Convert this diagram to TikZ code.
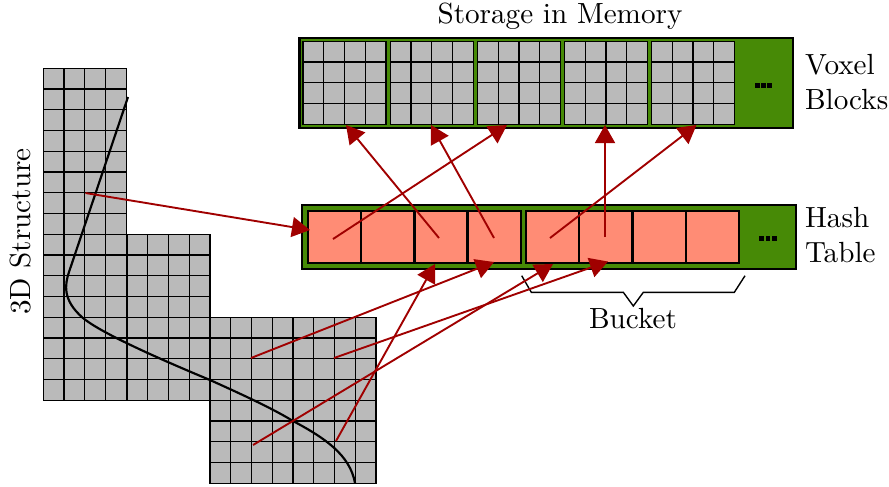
\documentclass[tikz,border=0pt]{standalone}
\usetikzlibrary{arrows.meta}
\definecolor{vgray}{HTML}{BABABA}
\definecolor{vgreen}{HTML}{478A06}
\definecolor{vsalmon}{HTML}{FF8C75}
\definecolor{vred}{HTML}{A00000}
\tikzset{
  gridcells/.style={draw=black,line width=0.47pt},
  cellgrid/.style={black,line width=0.47pt},
  bar/.style={draw=black,fill=vgreen,line width=1.05pt},
  hashbar/.style={draw=black,fill=vgreen,line width=0.8pt},
  hashcell/.style={draw=black,fill=vsalmon,line width=0.8pt},
  link/.style={draw=vred,line width=0.68pt,-{Triangle[length=6.5pt,width=7.2pt]}},
  curve/.style={black,line width=0.78pt},
  brace/.style={black,line width=0.5pt},
  dot/.style={fill=black,draw=none},
  lbl/.style={font=\fontsize{10.5}{13}\selectfont,inner sep=0pt},
}
\newcommand{\gridblock}[4]{%
  \fill[vgray] (#1,#2) rectangle +(#3*20.75,#4*20.75);
  \foreach \k in {1,...,#3}{\draw[cellgrid] (#1+\k*20.75,#2) -- +(0,#4*20.75);}
  \foreach \k in {1,...,#4}{\draw[cellgrid] (#1,#2+\k*20.75) -- +(#3*20.75,0);}
  \draw[gridcells] (#1,#2) rectangle +(#3*20.75,#4*20.75);
}
\begin{document}
\begin{tikzpicture}[x=0.36pt,y=-0.36pt]
\useasboundingbox (0,0) rectangle (889,486);
% 3D structure
\gridblock{43.3}{68.3}{4}{16}
\gridblock{127}{234.3}{4}{8}
\gridblock{210}{317.3}{8}{8}
\draw[curve] (128,97) -- (69,272) .. controls (65,284) and (62,300) .. (83,318)
  .. controls (100,332) and (150,355) .. (210,380)
  .. controls (250,398) and (275,410) .. (293,421)
  .. controls (325,438) and (350,455) .. (355,483);
\node[lbl,rotate=90] (structure) at (21,231.5) {3D Structure};
% Storage
\path[bar] (299.5,38) rectangle (793,128);
\gridblock{303}{41.3}{4}{4}
\gridblock{390.2}{41.3}{4}{4}
\gridblock{477.4}{41.3}{4}{4}
\gridblock{564.5}{41.3}{4}{4}
\gridblock{651.5}{41.3}{4}{4}
\foreach \x in {755,761.2,767.4}{\fill[dot] (\x,82.8) rectangle +(4.8,5);}
\node[lbl] (storage) at (560,16) {Storage in Memory};
\node[lbl,anchor=west] (voxel) at (804.5,65) {Voxel};
\node[lbl,anchor=west] (blocks) at (804.5,100) {Blocks};
% Hash table
\path[hashbar] (302,205) rectangle (796,269);
\foreach \x/\n in {308.3/a,361.3/b,414.4/c,467.5/d,526/e,579.3/f,632.7/g,686/h}{
  \path[hashcell] (\x,211) rectangle +(53.1,52.3);
}
\foreach \x in {759.3,765.5,771.7}{\fill[dot] (\x,236) rectangle +(4.8,5);}
\node[lbl,anchor=west] (hash) at (804.5,218) {Hash};
\node[lbl,anchor=west] (table) at (804.5,253) {Table};
% Bucket
\draw[brace] (521.7,275.7) -- (531.3,292.3) -- (623.3,292.3) -- (633.3,306) -- (643.3,292.3) -- (734.3,292.3) -- (745,275.7);
\node[lbl] (bucket) at (633,319) {Bucket};
% link end points
\coordinate (s1) at (85.5,193);   \coordinate (t1) at (310,230);
\coordinate (s2) at (333,239);    \coordinate (t2) at (507,125);
\coordinate (s3) at (439,238);    \coordinate (t3) at (346,125);
\coordinate (s4) at (494,238);    \coordinate (t4) at (431,125);
\coordinate (s5) at (550,238);    \coordinate (t5) at (696.5,125);
\coordinate (s6) at (605,237);    \coordinate (t6) at (605,125);
\coordinate (s7) at (251,358);    \coordinate (t7) at (494,262);
\coordinate (s8) at (334,358);    \coordinate (t8) at (608,261.5);
\coordinate (s9) at (253,445);    \coordinate (t9) at (553,264);
\coordinate (s10) at (336,441);   \coordinate (t10) at (435,264);
\foreach \i in {1,...,10}{\draw[link] (s\i) -- (t\i);}
\end{tikzpicture}
\end{document}
